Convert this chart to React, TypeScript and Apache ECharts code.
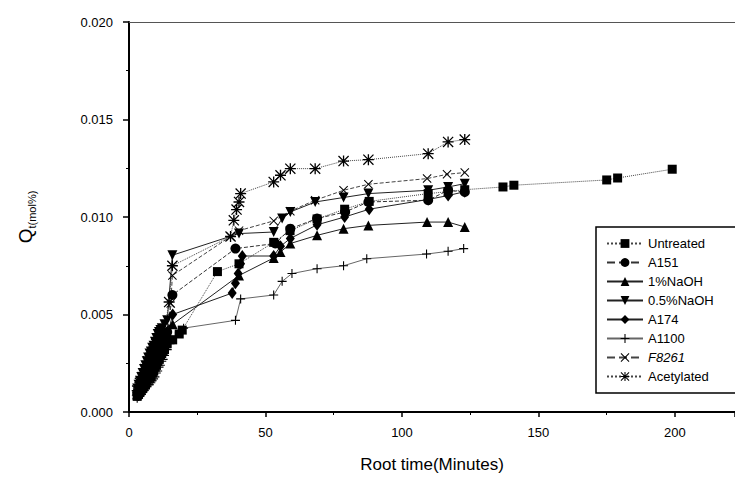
import React, { useEffect, useRef } from 'react';
import * as echarts from 'echarts';

const seriesNames = ['Untreated', 'A151', '1%NaOH', '0.5%NaOH', 'A174', 'A1100', 'F8261', 'Acetylated'];

const untreated: number[][] = [
  [3, 0.0008], [3.5, 0.0009], [4, 0.0010], [4.5, 0.0011], [5, 0.0012], [5.5, 0.0013], [6, 0.0014], [6.5, 0.0016],
  [7, 0.0017], [7.5, 0.0018], [8, 0.0018], [8.5, 0.0020], [9, 0.0021], [9.5, 0.0023], [10, 0.0024], [10.5, 0.0026],
  [11, 0.0027], [11.5, 0.0029], [12, 0.0030], [12.5, 0.0031], [13, 0.0032], [14, 0.0035], [16, 0.0037],
  [18.4, 0.0040], [19.5, 0.0042],
  [32.4, 0.0072], [40.3, 0.0076], [53, 0.0087], [59, 0.0093], [68.9, 0.0099], [79, 0.0104], [88, 0.0108],
  [109.6, 0.0112], [116.9, 0.0113], [123, 0.0114], [137, 0.01154], [141, 0.01163], [175, 0.0119], [179, 0.0120],
  [199, 0.01245],
];
const a151: number[][] = [
  [3, 0.0010], [4, 0.0013], [5, 0.0016], [6, 0.0019], [7, 0.0022], [8, 0.0025], [9, 0.0027], [10, 0.0031],
  [11, 0.0034], [12, 0.0036], [13, 0.0039], [14, 0.0041], [15.9, 0.0060], [39, 0.00838], [53.6, 0.00864],
  [59.1, 0.0094], [68.9, 0.00992], [79.2, 0.01026], [87.7, 0.01077], [109.6, 0.01086], [116.9, 0.01137],
  [123, 0.01128],
];
const naoh1: number[][] = [
  [3, 0.0009], [4, 0.0011], [5, 0.0013], [6, 0.0016], [7, 0.0019], [8, 0.0021], [9, 0.0024], [10, 0.0027],
  [11, 0.0030], [12, 0.0033], [13, 0.0035], [14, 0.0038], [16, 0.0045], [40.3, 0.0070], [53, 0.0079],
  [55.5, 0.0082], [59.1, 0.00864], [68.9, 0.00906], [78.6, 0.0094], [87.7, 0.00957], [109.2, 0.00974],
  [116.9, 0.00974], [123, 0.00949],
];
const naoh05: number[][] = [
  [3, 0.0012], [3.5, 0.0014], [4, 0.0016], [4.5, 0.0018], [5, 0.0020], [5.5, 0.0022], [6, 0.0024], [6.5, 0.0026],
  [7, 0.0028], [7.5, 0.0030], [8, 0.0031], [8.5, 0.0033], [9, 0.0034], [9.5, 0.0036], [10, 0.0038], [10.5, 0.0040],
  [11, 0.0041], [11.5, 0.0042], [12, 0.0043], [13, 0.0045], [14, 0.0047], [15.9, 0.00804], [40.3, 0.00915],
  [53, 0.00923], [56.1, 0.00992], [59.1, 0.01026], [68.2, 0.01077], [78.6, 0.0110], [87.7, 0.0112],
  [109.6, 0.01137], [116.9, 0.01154], [123, 0.01171],
];
const a174: number[][] = [
  [3, 0.0009], [4, 0.0012], [5, 0.0015], [6, 0.0018], [7, 0.0021], [8, 0.0023], [9, 0.0025], [10, 0.0029],
  [11, 0.0032], [12, 0.0034], [13, 0.0037], [14, 0.0039], [16, 0.0050], [37.8, 0.0061], [39, 0.0066],
  [40, 0.0071], [40.9, 0.0076], [41.5, 0.0080], [53, 0.0080], [55.5, 0.0085], [59.1, 0.0089], [68.9, 0.0096],
  [79, 0.0100], [88, 0.0104], [109.6, 0.0109], [116.9, 0.0111], [123, 0.0113],
];
const a1100: number[][] = [
  [3, 0.0007], [3.5, 0.0008], [4, 0.0009], [4.5, 0.0009], [5, 0.0010], [5.5, 0.0011], [6, 0.0012], [6.5, 0.0013],
  [7, 0.0014], [7.5, 0.0014], [8, 0.0015], [8.5, 0.0016], [9, 0.0017], [9.5, 0.0018], [10, 0.0020], [10.5, 0.0021],
  [11, 0.0023], [11.5, 0.0024], [12, 0.0026], [12.5, 0.0027], [13, 0.0029], [14, 0.0032], [15, 0.0035],
  [17, 0.0039], [20, 0.0043],
  [39, 0.0047], [40.9, 0.0058], [53, 0.0060], [56.1, 0.0067], [59.7, 0.0071], [68.9, 0.00735], [78.6, 0.0075],
  [87.1, 0.00786], [109, 0.0081], [116.9, 0.00824], [122.6, 0.00838],
];
const f8261: number[][] = [
  [3, 0.0010], [4, 0.0014], [5, 0.0017], [6, 0.0020], [7, 0.0024], [8, 0.0027], [9, 0.0029], [10, 0.0033],
  [11, 0.0036], [12, 0.0038], [13, 0.0041], [14, 0.0043], [15.3, 0.00557], [15.9, 0.0070], [37.2, 0.0090],
  [40.3, 0.0093], [53, 0.0098], [59.1, 0.0103], [68.2, 0.01086], [78.6, 0.01137], [87.7, 0.01168],
  [109.2, 0.01197], [116.5, 0.01219], [123, 0.01228],
];
const acetylated: number[][] = [
  [3, 0.0011], [4, 0.0015], [5, 0.0018], [6, 0.0022], [7, 0.0026], [8, 0.0028], [9, 0.0031], [10, 0.0035],
  [11, 0.0038], [12, 0.0040], [13, 0.0042], [14.7, 0.00564], [15.9, 0.0075], [37.2, 0.0090], [38.4, 0.00983],
  [39.4, 0.01038], [40.3, 0.01077], [40.9, 0.0112], [53, 0.0118], [55.5, 0.01214], [59.1, 0.01248],
  [68.2, 0.01248], [78.6, 0.01287], [87.7, 0.01294], [109.6, 0.01325], [116.9, 0.01385], [123, 0.01397],
];

const allData = [untreated, a151, naoh1, naoh05, a174, a1100, f8261, acetylated];

const SYM_INV_TRI = 'path://M0,0L10,0L5,9Z';
const SYM_PLUS = 'path://M4.4,0h1.2v10h-1.2z M0,4.4h10v1.2h-10z';
const SYM_X = 'path://M0,0.8L0.8,0L10,9.2L9.2,10Z M9.2,0L10,0.8L0.8,10L0,9.2Z';
const SYM_AST = 'path://M0,0.8L0.8,0L10,9.2L9.2,10Z M9.2,0L10,0.8L0.8,10L0,9.2Z M4.4,0h1.2v10h-1.2z M0,4.4h10v1.2h-10z';

const symbols = ['rect', 'circle', 'triangle', SYM_INV_TRI, 'diamond', SYM_PLUS, SYM_X, SYM_AST];
const symbolSizes: (number | number[])[] = [9, 10, 10, 10, [9, 12], 9, 9, 11];
const lineTypes = ['dotted', 'dashed', 'solid', 'solid', 'solid', 'solid', 'dashed', 'dotted'];
const lineColors = ['#444', '#333', '#222', '#222', '#222', '#666', '#444', '#444'];

const FONT = 'Liberation Sans, Arial, sans-serif';

export default function App() {
  const ref = useRef<HTMLDivElement>(null);
  useEffect(() => {
    if (!ref.current) return;
    const chart = echarts.init(ref.current, undefined, { renderer: 'svg' });
    const series = seriesNames.map((name, i) => ({
      name,
      type: 'line',
      data: allData[i],
      symbol: symbols[i],
      symbolSize: symbolSizes[i],
      itemStyle: { color: '#000', borderWidth: 0 },
      lineStyle: { color: lineColors[i], width: 1, type: lineTypes[i] },
      z: 2,
    }));
    chart.setOption({
      animation: false,
      backgroundColor: '#fff',
      textStyle: { fontFamily: FONT },
      grid: { left: 129, top: 22, right: 0, bottom: 66, containLabel: false },
      legend: {
        orient: 'vertical',
        left: 596,
        top: 227,
        itemGap: 6,
        itemWidth: 36,
        itemHeight: 11,
        padding: [10, 60, 10, 10],
        borderColor: '#000',
        borderWidth: 1.5,
        backgroundColor: '#fff',
        textStyle: { fontFamily: FONT, fontSize: 13, color: '#000' },
        data: seriesNames.map((n) => (n === 'F8261' ? { name: n, textStyle: { fontStyle: 'italic' } } : { name: n })),
      },
      xAxis: [
        {
          type: 'value',
          min: 0,
          max: 222,
          interval: 50,
          name: 'Root time(Minutes)',
          nameLocation: 'middle',
          nameGap: 44,
          nameTextStyle: { fontFamily: FONT, fontSize: 17, color: '#000' },
          axisLine: { show: true, lineStyle: { color: '#000', width: 2 } },
          axisTick: { show: true, inside: false, length: 5, lineStyle: { color: '#000', width: 1.5 } },
          minorTick: { show: true, splitNumber: 2, length: 3, lineStyle: { color: '#000', width: 1 } },
          axisLabel: { fontFamily: FONT, fontSize: 13, color: '#000', margin: 14, showMaxLabel: false },
          splitLine: { show: false },
        },
        {
          type: 'value',
          position: 'top',
          min: 0,
          max: 222,
          axisLine: { show: true, onZero: false, lineStyle: { color: '#555', width: 1 } },
          axisTick: { show: false },
          axisLabel: { show: false },
          splitLine: { show: false },
        },
      ],
      yAxis: {
        type: 'value',
        min: 0,
        max: 0.02,
        interval: 0.005,
        name: '{a|Q}{b|t(mol%)}',
        nameLocation: 'middle',
        nameRotate: 90,
        nameGap: 92,
        nameTextStyle: {
          color: '#000',
          rich: {
            a: { fontFamily: FONT, fontSize: 19, color: '#000' },
            b: { fontFamily: FONT, fontSize: 11, color: '#000', padding: [12, 0, 0, 0] },
          },
        },
        axisLine: { show: true, lineStyle: { color: '#000', width: 2 } },
        axisTick: { show: true, inside: false, length: 6, lineStyle: { color: '#000', width: 1.5 } },
        minorTick: { show: true, splitNumber: 2, length: 3, lineStyle: { color: '#000', width: 1 } },
        axisLabel: {
          fontFamily: FONT,
          fontSize: 13,
          color: '#000',
          margin: 16,
          formatter: (v: number) => v.toFixed(3),
        },
        splitLine: { show: false },
      },
      series,
    });
    return () => chart.dispose();
  }, []);
  return (
    <div
      ref={ref}
      style={{ position: 'fixed', left: 0, top: 0, width: 735, height: 478, background: '#fff' }}
    />
  );
}
